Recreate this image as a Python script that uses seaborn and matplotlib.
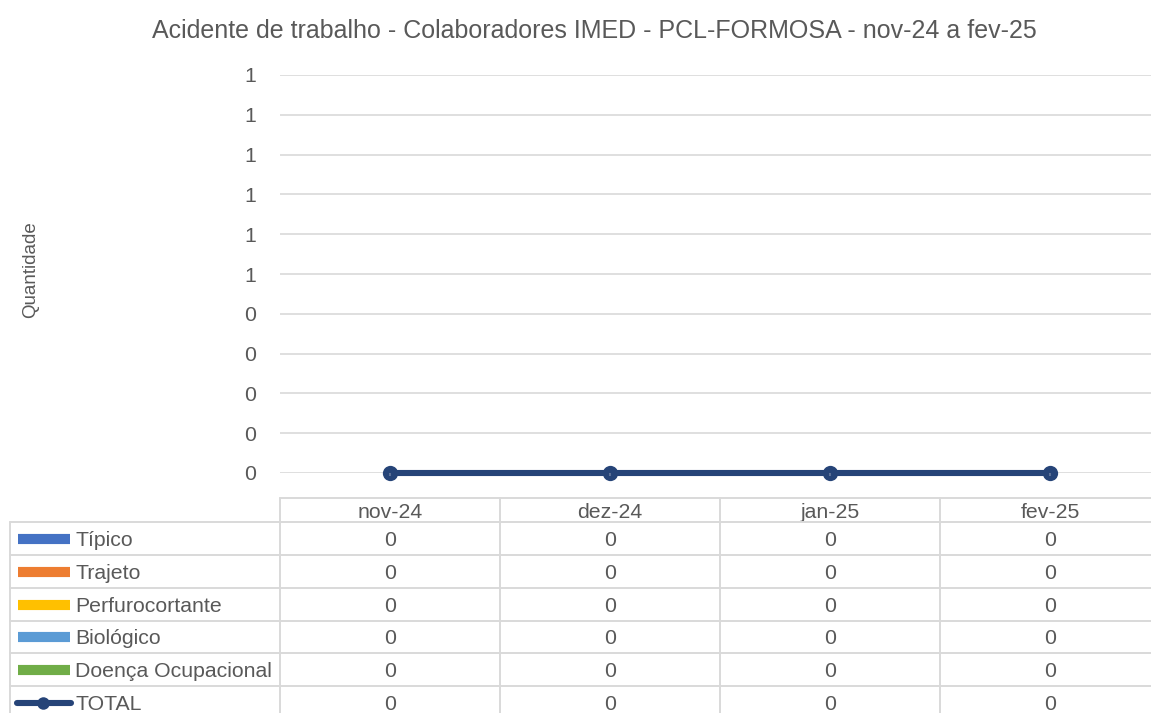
import math
import numpy as np
import pandas as pd
import seaborn as sns
import matplotlib
matplotlib.use("Agg")
import matplotlib.pyplot as plt
from matplotlib.lines import Line2D
import matplotlib.transforms as mtransforms

# ---- data ----
months = ["nov-24", "dez-24", "jan-25", "fev-25"]
tipico = [0, 0, 0, 0]
trajeto = [0, 0, 0, 0]
perfurocortante = [0, 0, 0, 0]
biologico = [0, 0, 0, 0]
doenca_ocupacional = [0, 0, 0, 0]
total = [0, 0, 0, 0]

series_names = ["Típico", "Trajeto", "Perfurocortante", "Biológico",
                "Doença Ocupacional", "TOTAL"]
series_values = [tipico, trajeto, perfurocortante, biologico,
                 doenca_ocupacional, total]
series_colors = ["#4472C4", "#ED7D31", "#FFC000", "#5B9BD5", "#70AD47", "#264478"]

title = "Acidente de trabalho - Colaboradores IMED - PCL-FORMOSA - nov-24 a fev-25"
y_label = "Quantidade"
y_ticks = np.linspace(0, 1, 11)

# ---- style ----
sns.set_theme(style="white")
plt.rcParams["font.family"] = ["Liberation Sans", "DejaVu Sans"]
TXT = "#595959"
GRID = "#D9D9D9"
FS = 15.3

W, H = 1151, 713
fig = plt.figure(figsize=(W / 100, H / 100), dpi=100)


def fy(px):
    return 1 - px / H


def fx(px):
    return px / W


# plot area spans x 280..1160 px, y 75..473 px
ax = fig.add_axes([fx(280), fy(473), fx(1160) - fx(280), fy(75) - fy(473)])

df = pd.DataFrame({"mes": months, "TOTAL": total})
x = np.arange(len(months))

# stacked columns for the accident types (all zero)
bottom = np.zeros(len(months))
for name, vals, col in zip(series_names[:-1], series_values[:-1], series_colors[:-1]):
    ax.bar(x, vals, bottom=bottom, width=0.55, color=col, linewidth=0, zorder=2)
    bottom += np.array(vals)

# TOTAL line
df["x"] = x
sns.lineplot(data=df, x="x", y="TOTAL", ax=ax, color=series_colors[-1],
             linewidth=4.4, marker="o", markersize=11, markeredgewidth=0,
             zorder=4, legend=False, clip_on=False)
for xi, v in zip(x, total):
    ax.text(xi, v, f"{v}", ha="center", va="top", fontsize=2.5,
            color="#C8CCD8", zorder=5, clip_on=False)

ax.set_xlim(-0.5, len(months) - 0.5)
ax.set_ylim(0, 1)
ax.set_yticks(y_ticks)
ax.set_yticklabels([str(int(math.floor(v + 0.5 + 1e-9))) for v in y_ticks])
ax.set_xticks([])
ax.set_xlabel("")
ax.set_ylabel("")
ax.tick_params(axis="y", length=0, pad=17, labelsize=FS, labelcolor=TXT)
ax.grid(axis="y", color=GRID, linewidth=1.2, zorder=0)
for s in ax.spines.values():
    s.set_visible(False)

fig.text(fx(594), fy(31), title, ha="center", va="center", fontsize=18, color=TXT)
fig.text(fx(31), fy(270), y_label, ha="center", va="center", rotation=90,
         fontsize=13.5, color=TXT)

# ---- data table below the plot ----
tr = mtransforms.blended_transform_factory(ax.transData, fig.transFigure)
row_lines = [522, 555, 588, 621, 653, 686, 719]
header_top = 498
lw_t = 1.4

# header box and column separators
fig.add_artist(Line2D([fx(280), 1.0], [fy(header_top)] * 2, color=GRID, lw=lw_t))
for i in range(len(months) + 1):
    xl = i - 0.5
    fig.add_artist(Line2D([xl, xl], [fy(header_top), fy(713)], color=GRID, lw=lw_t,
                          transform=tr))
for yl in row_lines[:-1]:
    fig.add_artist(Line2D([fx(10), 1.0], [fy(yl)] * 2, color=GRID, lw=lw_t))
fig.add_artist(Line2D([fx(10)] * 2, [fy(522), fy(713)], color=GRID, lw=lw_t))

for i, m in enumerate(months):
    ax.text(i, fy((header_top + 522) / 2), m, transform=tr, ha="center",
            va="center_baseline", fontsize=FS, color=TXT, clip_on=False)

for r, (name, vals, col) in enumerate(zip(series_names, series_values, series_colors)):
    yc = fy((row_lines[r] + row_lines[r + 1]) / 2)
    if name == "TOTAL":
        fig.add_artist(Line2D([fx(17), fx(71)], [yc, yc], color=col, lw=4.4,
                              solid_capstyle="round"))
        fig.add_artist(Line2D([fx(43)], [yc], color=col, marker="o",
                              markersize=9, markeredgewidth=0))
    else:
        fig.add_artist(Line2D([fx(18), fx(70)], [yc, yc], color=col, lw=7.3,
                              solid_capstyle="butt"))
    fig.text(fx(75), yc, name, ha="left", va="center_baseline", fontsize=FS, color=TXT)
    for i, v in enumerate(vals):
        ax.text(i, yc, f"{v}", transform=tr, ha="center", va="center_baseline",
                fontsize=FS, color=TXT, clip_on=False)

fig.savefig("out.png", dpi=100, facecolor="white")
